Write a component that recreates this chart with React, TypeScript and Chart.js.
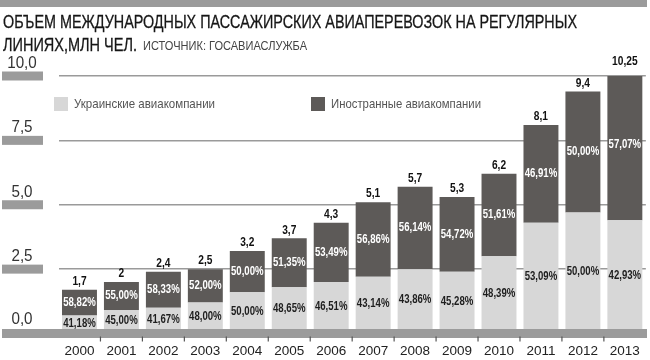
import React, { useEffect, useRef } from "react";
import { Chart, registerables } from "chart.js";

Chart.register(...registerables);

const years = ["2000","2001","2002","2003","2004","2005","2006","2007","2008","2009","2010","2011","2012","2013"];
const ukrainian = [0.7, 0.9, 1.0, 1.2, 1.6, 1.8, 2.0, 2.2, 2.5, 2.4, 3.0, 4.3, 4.7, 4.4];
const foreign = [1.0, 1.1, 1.4, 1.3, 1.6, 1.9, 2.3, 2.9, 3.2, 2.9, 3.2, 3.8, 4.7, 5.85];
const totalLabels = ["1,7","2","2,4","2,5","3,2","3,7","4,3","5,1","5,7","5,3","6,2","8,1","9,4","10,25"];
const ukrPctLabels = ["41,18%","45,00%","41,67%","48,00%","50,00%","48,65%","46,51%","43,14%","43,86%","45,28%","48,39%","53,09%","50,00%","42,93%"];
const forPctLabels = ["58,82%","55,00%","58,33%","52,00%","50,00%","51,35%","53,49%","56,86%","56,14%","54,72%","51,61%","46,91%","50,00%","57,07%"];
const seriesNames = ["Украинские авиакомпании", "Иностранные авиакомпании"];
const titleLine1 = "ОБЪЕМ МЕЖДУНАРОДНЫХ ПАССАЖИРСКИХ АВИАПЕРЕВОЗОК НА РЕГУЛЯРНЫХ";
const titleLine2 = "ЛИНИЯХ,МЛН ЧЕЛ.";
const sourceText = "ИСТОЧНИК: ГОСАВИАСЛУЖБА";

const FONT = '"Liberation Sans", Arial, sans-serif';
const LIGHT = "#d7d7d7";
const DARK = "#5d5a58";
const BAND = "#9b9b9b";

function measure(text: string, font: string) {
  const c = document.createElement("canvas").getContext("2d")!;
  c.font = font;
  return c.measureText(text).width;
}

function drawScaled(ctx: any, text: string, x: number, y: number, sx: number) {
  ctx.save();
  ctx.translate(x, y);
  ctx.scale(sx, 1);
  ctx.fillText(text, 0, 0);
  ctx.restore();
}

const decorPlugin = {
  id: "decor",
  afterDatasetsDraw(chart: any) {
    const ctx = chart.ctx;
    const y = chart.scales.y;
    const x = chart.scales.x;
    ctx.save();
    ctx.textAlign = "center";
    ctx.textBaseline = "middle";
    // y tick labels with gray blocks
    y.ticks.forEach((t: any) => {
      const py = y.getPixelForValue(t.value);
      ctx.fillStyle = BAND;
      if (t.value !== 0) ctx.fillRect(2, py - 4.5, 41, 9);
      ctx.fillStyle = "#333";
      ctx.font = `16.5px ${FONT}`;
      const label = Number(t.value).toFixed(1).replace(".", ",");
      drawScaled(ctx, label, 22, py - (t.value === 0 ? 14 : 12.5), 0.92);
    });
    // bottom band
    const y0 = y.getPixelForValue(0);
    ctx.fillStyle = BAND;
    ctx.fillRect(2, y0 - 4.5, 645, 9);
    // x tick marks between categories
    ctx.strokeStyle = "#555";
    ctx.lineWidth = 1.2;
    const n = chart.data.labels.length;
    for (let i = 0; i < n - 1; i++) {
      const px = (x.getPixelForValue(i) + x.getPixelForValue(i + 1)) / 2;
      ctx.beginPath();
      ctx.moveTo(px, y0 + 3);
      ctx.lineTo(px, y0 + 8);
      ctx.stroke();
    }
    // data labels
    const m0 = chart.getDatasetMeta(0);
    const m1 = chart.getDatasetMeta(1);
    for (let i = 0; i < n; i++) {
      const b0 = m0.data[i];
      const b1 = m1.data[i];
      ctx.font = `bold 12px ${FONT}`;
      ctx.fillStyle = "#1e1e1e";
      drawScaled(ctx, ukrPctLabels[i], b0.x, (b0.y + Math.min(b0.base, y0 - 4.5)) / 2 + 1, 0.8);
      ctx.fillStyle = "#ffffff";
      drawScaled(ctx, forPctLabels[i], b1.x, (b1.y + b1.base) / 2, 0.8);
      ctx.fillStyle = "#111";
      drawScaled(ctx, totalLabels[i], b1.x, b1.y - 8, 0.85);
    }
    // legend
    const legend = [
      { x: 54, color: LIGHT, text: chart.data.datasets[0].label, w: 141 },
      { x: 311, color: DARK, text: chart.data.datasets[1].label, w: 150 },
    ];
    ctx.textAlign = "left";
    legend.forEach((l) => {
      ctx.fillStyle = l.color;
      ctx.fillRect(l.x, 97, 14, 14);
      ctx.fillStyle = "#555";
      ctx.font = `13.5px ${FONT}`;
      const sx = l.w / ctx.measureText(l.text).width;
      drawScaled(ctx, l.text, l.x + 20, 104.5, sx);
    });
    ctx.restore();
  },
};

export default function App() {
  const ref = useRef<HTMLCanvasElement>(null);
  const t1Font = `19px ${FONT}`;
  const srcFont = `12.5px ${FONT}`;
  const s1 = 574 / measure(titleLine1, t1Font);
  const s2 = 134 / measure(titleLine2, t1Font);
  const s3 = 164 / measure(sourceText, srcFont);

  useEffect(() => {
    const chart = new Chart(ref.current!, {
      type: "bar",
      data: {
        labels: years,
        datasets: [
          { label: seriesNames[0], data: ukrainian, backgroundColor: LIGHT, borderWidth: 0, categoryPercentage: 1, barPercentage: 0.833 },
          { label: seriesNames[1], data: foreign, backgroundColor: DARK, borderWidth: 0, categoryPercentage: 1, barPercentage: 0.833 },
        ],
      },
      options: {
        responsive: false,
        animation: false,
        devicePixelRatio: 1,
        layout: { padding: { left: 58.5, right: 3.5, top: 76, bottom: 0.5 } },
        plugins: { legend: { display: false }, tooltip: { enabled: false } },
        scales: {
          x: {
            stacked: true,
            grid: { display: false, drawTicks: false },
            border: { display: false },
            ticks: { color: "#222", font: { family: FONT, size: 13.5 }, padding: 10, maxRotation: 0 },
            afterFit: (s: any) => { s.height = 26; },
          },
          y: {
            stacked: true,
            min: 0,
            max: 10,
            ticks: { stepSize: 2.5, display: false },
            grid: { color: "#9a9a9a", lineWidth: 1.5, drawTicks: false },
            border: { display: false },
          },
        },
      },
      plugins: [decorPlugin],
    });
    return () => chart.destroy();
  }, []);

  const common: React.CSSProperties = { position: "absolute", left: 3, fontFamily: FONT, fontSize: 19, lineHeight: "19px", color: "#161616", whiteSpace: "nowrap", transformOrigin: "0 0", WebkitTextStroke: "0.3px #161616" };

  return (
    <div style={{ position: "fixed", left: 0, top: 0, width: 650, height: 360, background: "#fff", overflow: "hidden" }}>
      <canvas ref={ref} width={650} height={360} style={{ position: "absolute", left: 0, top: 0 }} />
      <div style={{ position: "absolute", left: 0, top: 0, width: 647, height: 7, background: BAND }} />
      <div style={{ ...common, top: 12, transform: `scaleX(${s1})` }}>{titleLine1}</div>
      <div style={{ ...common, top: 34.5, transform: `scaleX(${s2})` }}>{titleLine2}</div>
      <div style={{ position: "absolute", left: 143, top: 40, fontFamily: FONT, fontSize: 12.5, lineHeight: "12.5px", color: "#444", whiteSpace: "nowrap", transformOrigin: "0 0", transform: `scaleX(${s3})` }}>{sourceText}</div>
    </div>
  );
}
